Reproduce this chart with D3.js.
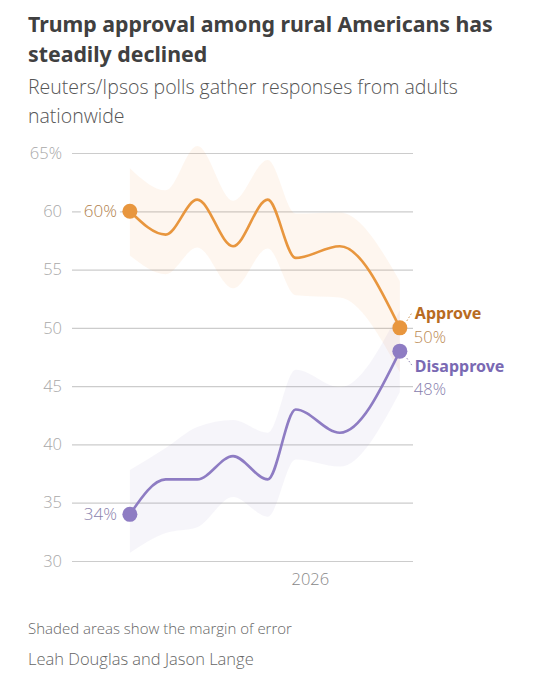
<!DOCTYPE html>
<html>
<head>
<meta charset="utf-8">
<script src="https://cdn.jsdelivr.net/npm/d3@7"></script>
<style>
  body { margin: 0; background: #fff; }
  svg text { font-family: "Open Sans", "Noto Sans", sans-serif; }
  svg text.title { font-family: "Noto Sans", sans-serif; }
</style>
</head>
<body>
<svg id="chart" width="535" height="680"></svg>
<script>
// poll dates (approximate, read from x position)
var poll_dates = ["2025-01-24", "2025-04-02", "2025-06-01", "2025-08-08", "2025-10-13", "2025-12-05", "2026-02-27", "2026-06-21"];
var approve = [60, 58, 61, 57, 61, 56, 57, 50];
var approve_hi = [63.7, 61.8, 65.6, 60.9, 64.4, 59.8, 59.9, 54.0];
var approve_lo = [56.2, 54.6, 56.9, 53.4, 56.8, 52.8, 52.6, 46.2];
var disapprove = [34, 37, 37, 39, 37, 43, 41, 48];
var disapprove_hi = [37.8, 39.7, 41.5, 42.1, 41.0, 46.4, 44.9, 51.5];
var disapprove_lo = [30.7, 32.4, 32.9, 35.5, 33.8, 38.7, 38.1, 44.5];
var y_ticks = [30, 35, 40, 45, 50, 55, 60, 65];
var x_ticks = ["2026-01-01"];

var parse = d3.timeParse("%Y-%m-%d");
var dates = poll_dates.map(parse);

var svg = d3.select("#chart");

var x = d3.scaleTime()
    .domain([parse("2024-10-06"), parse("2026-07-16")])
    .range([72, 413]);
var y = d3.scaleLinear().domain([30, 65]).range([561, 153]);

// titles
svg.append("text").attr("class", "title").attr("x", 28).attr("y", 32)
    .attr("font-size", 21.3).attr("font-weight", "bold").attr("fill", "#404040")
    .text("Trump approval among rural Americans has");
svg.append("text").attr("class", "title").attr("x", 28).attr("y", 62)
    .attr("font-size", 21.3).attr("font-weight", "bold").attr("fill", "#404040")
    .text("steadily declined");
svg.append("text").attr("x", 28).attr("y", 94)
    .attr("font-size", 19.5).attr("font-weight", 300).attr("fill", "#555")
    .text("Reuters/Ipsos polls gather responses from adults");
svg.append("text").attr("x", 28).attr("y", 123)
    .attr("font-size", 19.5).attr("font-weight", 300).attr("fill", "#555")
    .text("nationwide");

// y grid + labels
var y_axis = d3.axisLeft(y)
    .tickValues(y_ticks)
    .tickSize(-(413 - 72))
    .tickPadding(10)
    .tickFormat(function(d) { return d == 65 ? d + "%" : d; });

var gy = svg.append("g").attr("transform", "translate(72,0)").call(y_axis);
gy.select(".domain").remove();
gy.selectAll(".tick line").attr("stroke", "#cccccc").attr("stroke-width", 1.2);
gy.selectAll(".tick text")
    .attr("font-size", 16.5).attr("font-weight", 300).attr("fill", "#a8a8a8")
    .attr("font-family", "'Open Sans', 'Noto Sans', sans-serif");

// x axis
var x_axis = d3.axisBottom(x)
    .tickValues(x_ticks.map(parse))
    .tickSize(0)
    .tickPadding(12)
    .tickFormat(d3.timeFormat("%Y"));
var gx = svg.append("g").attr("transform", "translate(0,561)").call(x_axis);
gx.select(".domain").remove();
gx.selectAll(".tick text")
    .attr("font-size", 16.5).attr("font-weight", 300).attr("fill", "#888")
    .attr("font-family", "'Open Sans', 'Noto Sans', sans-serif");

// margin of error bands
var idx = d3.range(dates.length);
function band(p_hi, p_lo)
{
    return d3.area()
        .curve(d3.curveMonotoneX)
        .x(function(i) { return x(dates[i]); })
        .y0(function(i) { return y(p_lo[i]); })
        .y1(function(i) { return y(p_hi[i]); })(idx);
}
svg.append("path").attr("d", band(approve_hi, approve_lo))
    .attr("fill", "#f4a04c").attr("fill-opacity", 0.09);
svg.append("path").attr("d", band(disapprove_hi, disapprove_lo))
    .attr("fill", "#8e7cc3").attr("fill-opacity", 0.08);

// lines
function line(p_vals)
{
    return d3.line()
        .curve(d3.curveMonotoneX)
        .x(function(i) { return x(dates[i]); })
        .y(function(i) { return y(p_vals[i]); })(idx);
}
var orange = "#e8963e";
var purple = "#8e7cc3";
svg.append("path").attr("d", line(approve)).attr("fill", "none")
    .attr("stroke", orange).attr("stroke-width", 2.6);
svg.append("path").attr("d", line(disapprove)).attr("fill", "none")
    .attr("stroke", purple).attr("stroke-width", 2.6);

// start labels (white box cuts the grid line)
var first = 0, last = dates.length - 1;
function start_label(p_val, p_color)
{
    var bg = svg.append("rect").attr("fill", "#fff");
    var t = svg.append("text")
        .attr("x", x(dates[first]) - 13).attr("y", y(p_val))
        .attr("dy", "0.35em").attr("text-anchor", "end")
        .attr("font-size", 17).attr("font-weight", 300).attr("fill", p_color)
        .text(p_val + "%");
    var bb = t.node().getBBox();
    bg.attr("x", bb.x - 3).attr("y", bb.y + 3)
        .attr("width", bb.width + 6).attr("height", bb.height - 6);
}
start_label(approve[first], "#b07f4d");
start_label(disapprove[first], "#8a82ad");

// end dots
[[approve, orange], [disapprove, purple]].forEach(function(s)
{
    [first, last].forEach(function(i)
    {
        svg.append("circle")
            .attr("cx", x(dates[i])).attr("cy", y(s[0][i])).attr("r", 7.5)
            .attr("fill", s[1]);
    });
});

// end labels
var lx = x(dates[last]);
svg.append("line")
    .attr("x1", lx + 7).attr("y1", y(approve[last]) - 7)
    .attr("x2", lx + 12).attr("y2", y(approve[last]) - 15)
    .attr("stroke", "#c9914f").attr("stroke-width", 1).attr("stroke-dasharray", "1.5,2");
svg.append("line")
    .attr("x1", lx + 7).attr("y1", y(disapprove[last]) + 7)
    .attr("x2", lx + 12).attr("y2", y(disapprove[last]) + 14)
    .attr("stroke", "#8e86b0").attr("stroke-width", 1).attr("stroke-dasharray", "1.5,2");

svg.append("text").attr("class", "title").attr("x", lx + 15).attr("y", y(approve[last]) - 9)
    .attr("font-size", 16).attr("font-weight", "bold").attr("fill", "#b86b22")
    .text("Approve");
svg.append("text").attr("x", lx + 14).attr("y", y(approve[last]) + 15)
    .attr("font-size", 16.5).attr("font-weight", 300).attr("fill", "#bb8a52")
    .text(approve[last] + "%");
svg.append("text").attr("class", "title").attr("x", lx + 15).attr("y", y(disapprove[last]) + 21)
    .attr("font-size", 16).attr("font-weight", "bold").attr("fill", "#7a69b3")
    .text("Disapprove");
svg.append("text").attr("x", lx + 14).attr("y", y(disapprove[last]) + 44)
    .attr("font-size", 16.5).attr("font-weight", 300).attr("fill", "#8880ad")
    .text(disapprove[last] + "%");

// footer
svg.append("text").attr("x", 28).attr("y", 634)
    .attr("font-size", 15).attr("font-weight", 300).attr("fill", "#666")
    .text("Shaded areas show the margin of error");
svg.append("text").attr("x", 28).attr("y", 665)
    .attr("font-size", 16.5).attr("font-weight", 300).attr("fill", "#666")
    .text("Leah Douglas and Jason Lange");
</script>
</body>
</html>
